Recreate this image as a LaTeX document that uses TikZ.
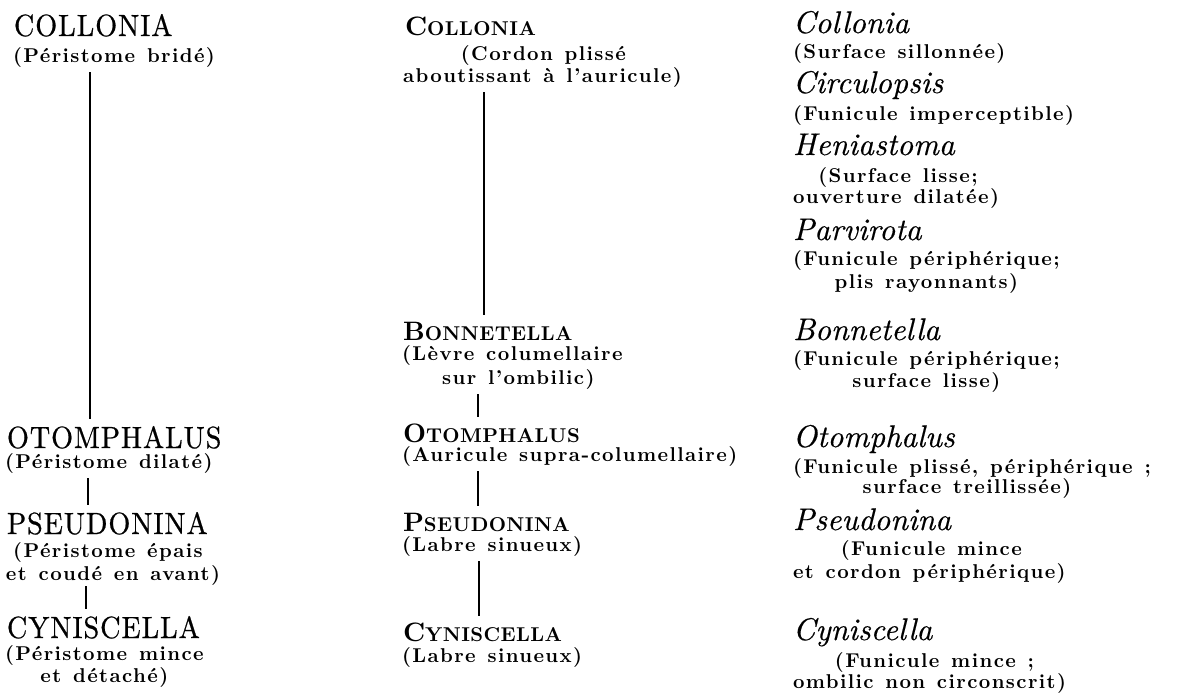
\documentclass[tikz,border=0pt]{standalone}
\usepackage{fontspec}
\usetikzlibrary{calc}
\newfontfamily\fHeadF{lmroman10-regular.otf}[FakeStretch=0.92,LetterSpace=3,FakeBold=0.6]
\newfontfamily\fItalF{lmroman10-italic.otf}[FakeBold=0.4]
\newfontfamily\fParF{lmroman10-bold.otf}[LetterSpace=7,WordSpace=1.3]
\newfontfamily\fSCF{lmroman10-bold.otf}[LetterSpace=2]
\newcommand{\fHead}{\fHeadF\fontsize{23}{23}\selectfont}
\newcommand{\fItal}{\fItalF\fontsize{23.5}{23.5}\selectfont}
\newcommand{\fPar}{\fParF\fontsize{15}{15}\selectfont}
\newcommand{\fSC}{\fSCF}
\newcommand{\SCx}[2]{{\fontsize{20}{20}\selectfont #1}{\fontsize{15}{15}\selectfont #2}}
\tikzset{
  txt/.style={inner sep=0pt, outer sep=0pt},
  headA/.style={txt, anchor=base west, font=\fHead},
  headB/.style={txt, anchor=base west, font=\fSC},
  headC/.style={txt, anchor=base west, font=\fItal},
  parL/.style={txt, anchor=base west, font=\fPar},
  parC/.style={txt, anchor=base, font=\fPar},
  conn/.style={line width=1.1pt, shorten <=4pt, shorten >=5pt}
}
\begin{document}
\begin{tikzpicture}[x=0.75pt, y=-0.75pt]
\useasboundingbox[fill=white] (0,0) rectangle (1178,696);

% ---------- column 1 ----------
\node[headA] (c1a) at (14,36) {COLLONIA};
\node[parL]  (c1ap) at (13,62) {(Péristome bridé)};
\node[headA] (c1b) at (7,448) {OTOMPHALUS};
\node[parL]  (c1bp) at (5,468) {(Péristome dilaté)};
\node[headA] (c1c) at (7,534) {PSEUDONINA};
\node[parL]  (c1cp2) at (6,580) {et coudé en avant)};
\node[parC]  (c1cp1) at ($(c1cp2.base)+(-5,-23)$) {(Péristome épais};
\node[headA] (c1d) at (7,638) {CYNISCELLA};
\node[parL]  (c1dp1) at (5,660) {(Péristome mince};
\node[parC]  (c1dp2) at ($(c1dp1.base)+(0,22)$) {et détaché)};

\coordinate (xa) at (90,0);
\coordinate (xb) at (88,0);
\coordinate (xc) at (86,0);
\draw[conn] (xa |- c1ap.south) -- (xa |- c1b.north);
\draw[conn] (xb |- c1bp.south) -- (xb |- c1c.north);
\draw[conn, shorten <=1pt] (xc |- c1cp2.south) -- (xc |- c1d.north);

% ---------- column 2 ----------
\node[headB] (c2a) at (405,35) {\SCx{C}{OLLONIA}};
\node[parL]  (c2ap2) at (403,82) {aboutissant à l’auricule)};
\node[parC]  (c2ap1) at ($(c2ap2.base)+(1,-22)$) {(Cordon plissé};
\node[headB] (c2b) at (403,340) {\SCx{B}{ONNETELLA}};
\node[parL]  (c2bp1) at (402,360) {(Lèvre columellaire};
\node[parC]  (c2bp2) at ($(c2bp1.base)+(6,24)$) {sur l’ombilic)};
\node[headB] (c2c) at (403,442) {\SCx{O}{TOMPHALUS}};
\node[parL]  (c2cp) at (402,461) {(Auricule supra-columellaire)};
\node[headB] (c2d) at (403,531) {\SCx{P}{SEUDONINA}};
\node[parL]  (c2dp) at (402,551) {(Labre sinueux)};
\node[headB] (c2e) at (403,641) {\SCx{C}{YNISCELLA}};
\node[parL]  (c2ep) at (402,662) {(Labre sinueux)};

\coordinate (xd) at (484,0);
\coordinate (xe) at (478,0);
\coordinate (xf) at (479,0);
\draw[conn] (xd |- c2ap2.south) -- (xd |- c2b.north);
\draw[conn] (xe |- c2bp2.south) -- (xe |- c2c.north);
\draw[conn] (xe |- c2cp.south) -- (xe |- c2d.north);
\draw[conn] (xf |- c2dp.south) -- (xf |- c2e.north);

% ---------- column 3 ----------
\node[headC] (c3a) at (793,33) {Collonia};
\node[parL]  (c3ap) at (793,58) {(Surface sillonnée)};
\node[headC] (c3b) at (793,93) {Circulopsis};
\node[parL]  (c3bp) at (793,120) {(Funicule imperceptible)};
\node[headC] (c3c) at (793,155) {Heniastoma};
\node[parL]  (c3cp2) at (793,203) {ouverture dilatée)};
\node[parC]  (c3cp1) at ($(c3cp2.base)+(2,-21)$) {(Surface lisse;};
\node[headC] (c3d) at (793,240) {Parvirota};
\node[parL]  (c3dp1) at (793,265) {(Funicule périphérique;};
\node[parC]  (c3dp2) at ($(c3dp1.base)+(0,23)$) {plis rayonnants)};
\node[headC] (c3e) at (793,340) {Bonnetella};
\node[parL]  (c3ep1) at (793,365) {(Funicule périphérique;};
\node[parC]  (c3ep2) at ($(c3ep1.base)+(0,22)$) {surface lisse)};
\node[headC] (c3f) at (793,447) {Otomphalus};
\node[parL]  (c3fp1) at (793,473) {(Funicule plissé, périphérique ;};
\node[parC]  (c3fp2) at ($(c3fp1.base)+(-5,20)$) {surface treillissée)};
\node[headC] (c3g) at (793,530) {Pseudonina};
\node[parL]  (c3gp2) at (793,578) {et cordon périphérique)};
\node[parC]  (c3gp1) at ($(c3gp2.base)+(2,-23)$) {(Funicule mince};
\node[headC] (c3h) at (793,640) {Cyniscella};
\node[parL]  (c3hp2) at (793,688) {ombilic non circonscrit)};
\node[parC]  (c3hp1) at ($(c3hp2.base)+(5,-21)$) {(Funicule mince ;};
\end{tikzpicture}
\end{document}
